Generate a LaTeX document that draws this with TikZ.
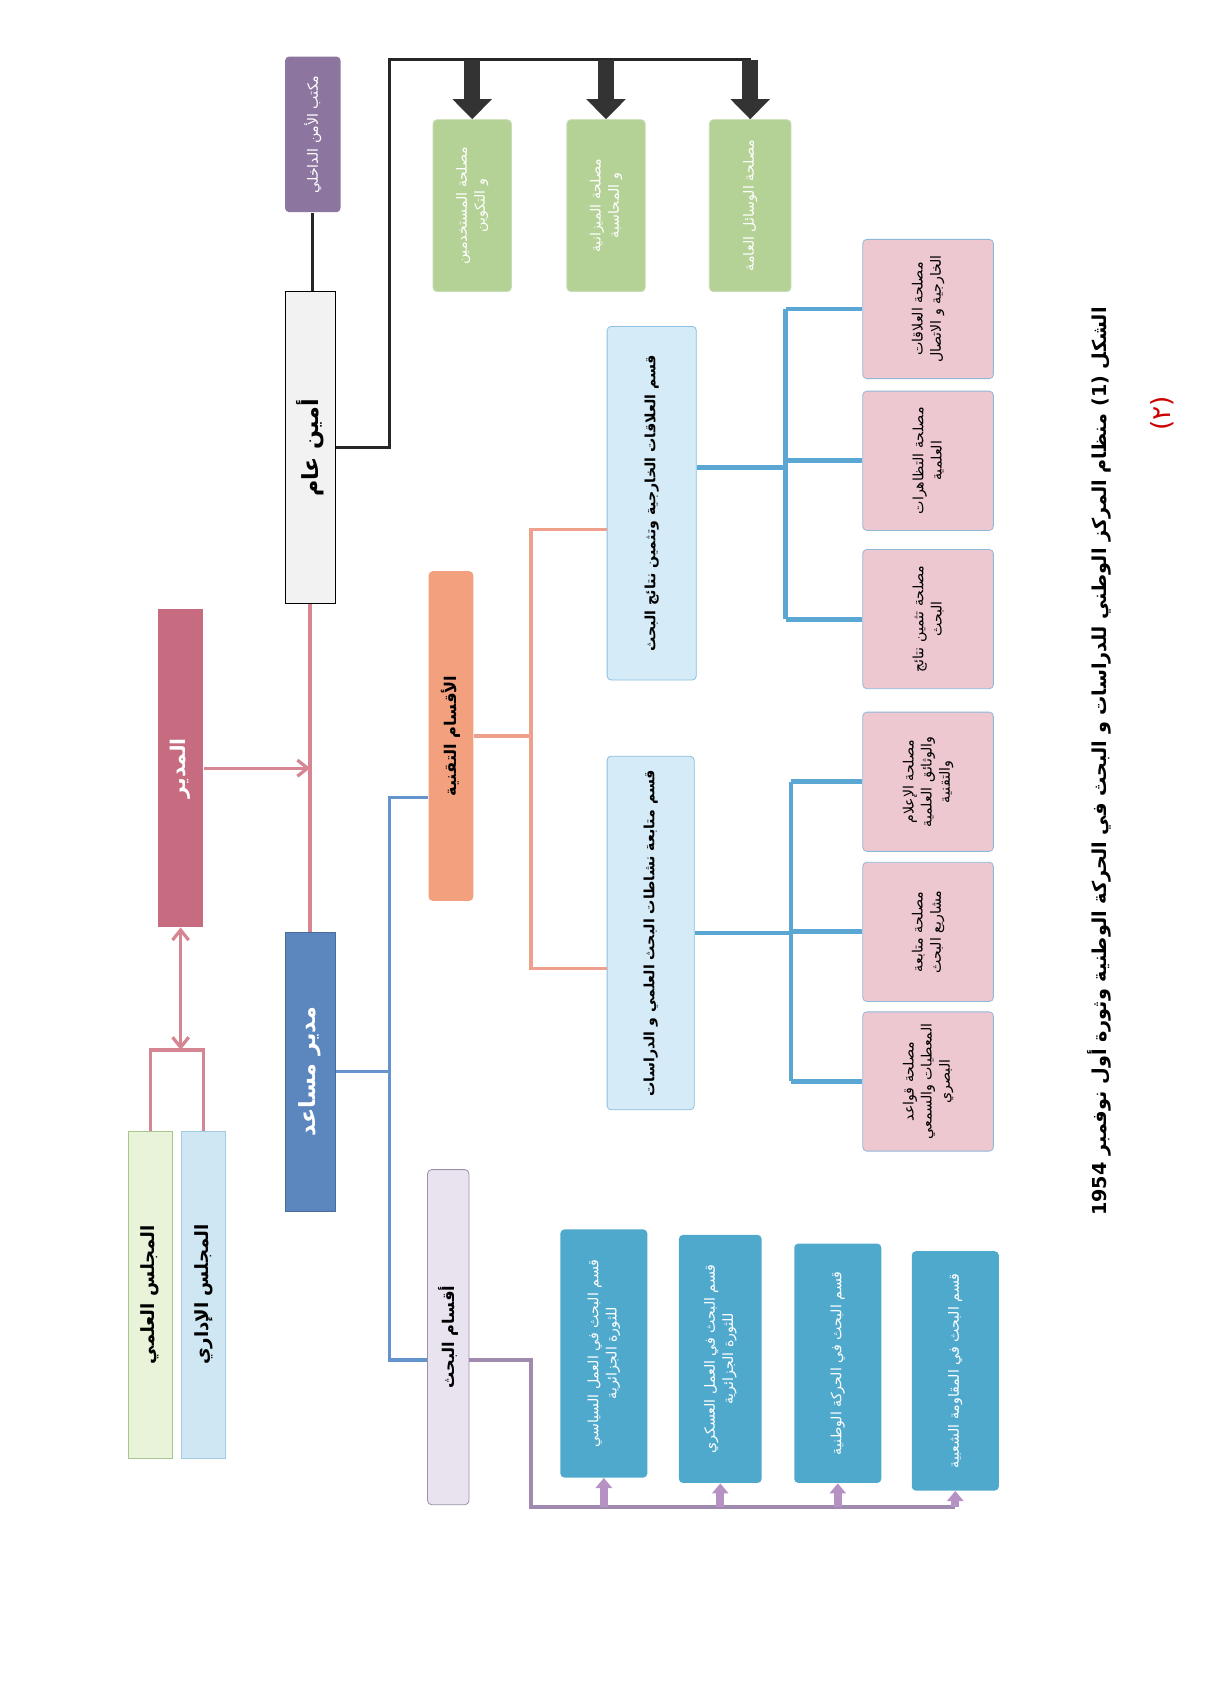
\documentclass[tikz,border=0pt]{standalone}
\usepackage{fontspec}
\usepackage{tikz}
\usetikzlibrary{arrows.meta}
\newfontfamily\arfont[Script=Arabic]{DejaVu Sans}
\TeXXeTstate=1
\newcommand{\ar}[1]{{\arfont\beginR #1\endR}}
\definecolor{pinkline}{HTML}{D68592}
\definecolor{dirfill}{HTML}{C76B80}
\definecolor{depfill}{HTML}{5B87BE}
\definecolor{blueline}{HTML}{6494CC}
\definecolor{techfill}{HTML}{F2A07E}
\definecolor{salmonline}{HTML}{EFA08C}
\definecolor{lbfill}{HTML}{D5ECF8}
\definecolor{lbdraw}{HTML}{8DBFDF}
\definecolor{svcline}{HTML}{5BA7D3}
\definecolor{svcfill}{HTML}{EDC8D1}
\definecolor{svcdraw}{HTML}{8FB8D8}
\definecolor{greenfill}{HTML}{B4D196}
\definecolor{greendraw}{HTML}{C9DDB4}
\definecolor{secfill}{HTML}{8C76A0}
\definecolor{scifill}{HTML}{E8F3DA}
\definecolor{scidraw}{HTML}{A9C78C}
\definecolor{admfill}{HTML}{CFE7F3}
\definecolor{admdraw}{HTML}{A3CBE3}
\definecolor{resfill}{HTML}{E9E3F0}
\definecolor{resdraw}{HTML}{9A92AA}
\definecolor{resline}{HTML}{A08AB0}
\definecolor{arrowfill}{HTML}{B591C4}
\definecolor{bluefill}{HTML}{4FA9CD}

\begin{document}
\begin{tikzpicture}[x=0.0189cm, y=-0.0189cm,
    box_node/.style 2 args={rotate=90, rounded corners=2pt, minimum width=#1*0.0189cm,
      minimum height=#2*0.0189cm, inner sep=1pt, align=center, font=\fontsize{7}{9}\selectfont},
    pink_line/.style={draw=pinkline, line width=1.6pt},
    blue_line/.style={draw=blueline, line width=1.6pt},
    salmon_line/.style={draw=salmonline, line width=1.6pt},
    svc_line/.style={draw=svcline, line width=2.4pt},
    res_line/.style={draw=resline, line width=1.8pt},
    black_line/.style={draw=black!85, line width=1.6pt},
    fat_arrow/.style={draw=black!80, line width=8pt, -{Triangle[width=19pt,length=10pt]}},
    small_arrow/.style={draw=arrowfill, line width=4pt, -{Triangle[width=8pt,length=5pt]}}]

    \useasboundingbox[fill=white] (0,0) rectangle (1110,1568);

    \node[box_node={143}{51}, fill=secfill, text=white] (sec) at (287.5,123.5) {\ar{مكتب الأمن الداخلي}};
    \node[box_node={287}{46}, fill=black!5, draw=black, rounded corners=0pt, font=\fontsize{11}{13}\selectfont\bfseries] (sg) at (285,411.5) {\ar{أمين عام}};
    \node[box_node={292}{42}, fill=dirfill, text=white, rounded corners=0pt, font=\fontsize{10}{12}\selectfont\bfseries] (dir) at (166,706) {\ar{المدير}};
    \node[box_node={256}{46}, fill=depfill, text=white, draw=depfill!80!black, rounded corners=0pt, font=\fontsize{11}{13}\selectfont\bfseries] (dep) at (285,985) {\ar{مدير مساعد}};
    \node[box_node={300}{40}, fill=scifill, draw=scidraw, rounded corners=0pt, font=\fontsize{9}{11}\selectfont\bfseries] (sci) at (138,1190) {\ar{المجلس العلمي}};
    \node[box_node={300}{40}, fill=admfill, draw=admdraw, rounded corners=0pt, font=\fontsize{9}{11}\selectfont\bfseries] (adm) at (187,1190) {\ar{المجلس الإداري}};
    \node[box_node={303}{41}, fill=techfill, font=\fontsize{8}{10}\selectfont\bfseries] (tech) at (414.5,676.5) {\ar{الأقسام التقنية}};
    \node[box_node={308}{38}, fill=resfill, draw=resdraw, font=\fontsize{8}{10}\selectfont\bfseries] (res) at (412,1229) {\ar{أقسام البحث}};

    \node[box_node={158}{72}, fill=greenfill, draw=greendraw, text=white] (g1) at (434,189) {\ar{مصلحة المستخدمين}\\\ar{و التكوين}};
    \node[box_node={158}{72}, fill=greenfill, draw=greendraw, text=white] (g2) at (557,189) {\ar{مصلحة الميزانية}\\\ar{و المحاسبة}};
    \node[box_node={158}{75}, fill=greenfill, draw=greendraw, text=white] (g3) at (689.5,189) {\ar{مصلحة الوسائل العامة}};

    \node[box_node={325}{82}, fill=lbfill, draw=lbdraw, font=\fontsize{7}{9}\selectfont\bfseries] (lb1) at (599,462.5) {\ar{قسم العلاقات الخارجية وتثمين نتائج البحث}};
    \node[box_node={325}{80}, fill=lbfill, draw=lbdraw, font=\fontsize{7}{9}\selectfont\bfseries] (lb2) at (598,857.5) {\ar{قسم متابعة نشاطات البحث العلمي و الدراسات}};

    \node[box_node={128}{120}, fill=svcfill, draw=svcdraw] (p1) at (853,284) {\ar{مصلحة العلاقات}\\\ar{الخارجية و الاتصال}};
    \node[box_node={128}{120}, fill=svcfill, draw=svcdraw] (p2) at (853,423.5) {\ar{مصلحة التظاهرات}\\\ar{العلمية}};
    \node[box_node={128}{120}, fill=svcfill, draw=svcdraw] (p3) at (853,569) {\ar{مصلحة تثمين نتائج}\\\ar{البحث}};
    \node[box_node={128}{120}, fill=svcfill, draw=svcdraw] (p4) at (853,718.5) {\ar{مصلحة الإعلام}\\\ar{والوثائق العلمية}\\\ar{والتقنية}};
    \node[box_node={128}{120}, fill=svcfill, draw=svcdraw] (p5) at (853,856.5) {\ar{مصلحة متابعة}\\\ar{مشاريع البحث}};
    \node[box_node={128}{120}, fill=svcfill, draw=svcdraw] (p6) at (853,994) {\ar{مصلحة قواعد}\\\ar{المعطيات والسمعي}\\\ar{البصري}};

    \node[box_node={228}{80}, fill=bluefill, text=white] (b1) at (555,1244) {\ar{قسم البحث في العمل السياسي}\\\ar{للثورة الجزائرية}};
    \node[box_node={228}{76}, fill=bluefill, text=white] (b2) at (662,1249) {\ar{قسم البحث في العمل العسكري}\\\ar{للثورة الجزائرية}};
    \node[box_node={220}{80}, fill=bluefill, text=white] (b3) at (770,1253) {\ar{قسم البحث في الحركة الوطنية}};
    \node[box_node={220}{80}, fill=bluefill, text=white] (b4) at (878,1260) {\ar{قسم البحث في المقاومة الشعبية}};

    \node[rotate=90, font=\fontsize{9.5}{12}\selectfont\bfseries] (cap) at (1010,700) {\ar{الشكل (1) منظام المركز الوطني للدراسات و البحث في الحركة الوطنية وثورة أول نوفمبر 1954}};
    \node[rotate=90, text=red!80!black, font=\fontsize{13}{15}\selectfont] (mark) at (1068,380) {\ar{(٢)}};

    \coordinate (bar_l) at (358,55);
    \coordinate (bar_r) at (690,55);
    \coordinate (cj) at (166,965);
    \coordinate (bt) at (358,733);
    \coordinate (bb) at (358,1250);
    \coordinate (tj) at (488,667);
    \coordinate (tj1) at (488,487);
    \coordinate (tj2) at (488,890);
    \coordinate (v1) at (722,430);
    \coordinate (v2) at (727,853);
    \coordinate (rj) at (488,1385);
    \coordinate (rs) at (431,1250);

    \draw[black_line] (sec.west) -- (sec.west |- sg.east);
    \draw[black_line] (sg.south) -| (bar_l) -- (bar_r);
    \foreach \g in {g1,g2,g3}
      \draw[fat_arrow] (\g.east |- bar_l) -- (\g.east);

    \draw[pink_line] (sg.west) -- (sg.west |- dep.east);
    \draw[pink_line, -{Straight Barb[length=5pt,width=8pt]}] (dir.south) -- (dir.south -| sg.west);
    \draw[pink_line, {Straight Barb[length=5pt,width=8pt]}-{Straight Barb[length=5pt,width=8pt]}] (dir.west) -- (cj);
    \draw[pink_line] (sci.east) -- (sci.east |- cj) -- (adm.east |- cj) -- (adm.east);

    \draw[blue_line] (dep.south) -- (dep.south -| bt);
    \draw[blue_line] (tech.north |- bt) -- (bt) -- (bb) -- (res.north |- bb);

    \draw[salmon_line] (tech.south) -- (tech.south -| tj);
    \draw[salmon_line] (lb1.north |- tj1) -- (tj1) -- (tj2) -- (lb2.north |- tj2);

    \draw[svc_line] (lb1.south |- v1) -- (v1);
    \draw[svc_line] (p1.north -| v1) -- (p3.north -| v1);
    \foreach \p in {p1,p2,p3}
      \draw[svc_line] (\p.north -| v1) -- (\p.north);
    \draw[svc_line] (lb2.south) -- (lb2.south -| v2);
    \draw[svc_line] (p4.north -| v2) -- (p6.north -| v2);
    \foreach \p in {p4,p5,p6}
      \draw[svc_line] (\p.north -| v2) -- (\p.north);

    \draw[res_line] (rs) -| (rj) -- (b4.west |- rj);
    \foreach \b in {b1,b2,b3,b4}
      \draw[small_arrow] (\b.west |- rj) -- (\b.west);
\end{tikzpicture}
\end{document}
